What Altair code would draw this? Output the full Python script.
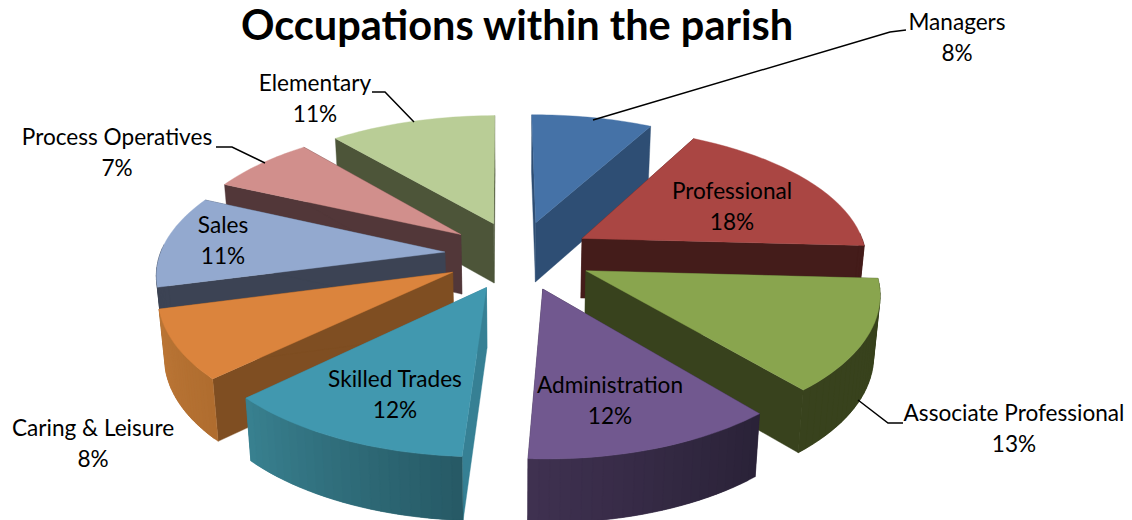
import math
import altair as alt

W, H = 1116, 512
categories = ["Managers", "Professional", "Associate Professional", "Administration",
              "Skilled Trades", "Caring & Leisure", "Sales", "Process Operatives", "Elementary"]
shares = [8, 18, 13, 12, 12, 8, 11, 7, 11]
top_colors = ["#4572a7", "#aa4643", "#89a54e", "#71588f", "#4198af", "#db843d", "#93a9cf", "#d18f8c", "#b9cd96"]
cut_colors = ["#2e4e74", "#441c1a", "#38421d", "#2b2239", "#368094", "#7f4e22", "#3c4354", "#523739", "#4d5539"]
wall_start = ["#2e4e74", "#441c1a", "#38421d", "#2a2238", "#275a66", "#b06d2f", "#3c4354", "#523739", "#4d5539"]
wall_end = ["#2e4e74", "#441c1a", "#38421d", "#3f3150", "#38808f", "#bb7636", "#3c4354", "#523739", "#4d5539"]
draw_order = ["Managers", "Elementary", "Process Operatives", "Professional", "Sales",
              "Associate Professional", "Caring & Leisure", "Administration", "Skilled Trades"]
label_x = [957, 732, 1014, 610, 395, 93, 223, 117, 315]
label_y = [23, 192, 414, 386, 380, 429, 226, 138, 84]
leaders = [[(906, 30), (890, 32), (593, 120)],
           [(903, 423), (888, 423), (858, 400)],
           [(372, 92), (385, 92), (414, 122)],
           [(216, 147), (232, 147), (265, 163)]]

# view of the tilted pie
CX, CY, RX, RY, P, PX, DEPTH, EXPLODE, OFFSET, TURN = 518.5, 255, 285, 133, 0.15, 0.14, 60, 0.26, 8, -0.008


def project(gx, gy, down=0.0):
    kx = 1 / (1 - PX * gy)
    k = 1 / (1 - P * gy)
    return (CX + RX * gx * kx * (1 - 0.018 * down) - OFFSET,
            CY + RY * gy * k + down * DEPTH * k ** 0.3 - OFFSET)


def mix(a, b, t):
    ca = [int(a[i:i + 2], 16) for i in (1, 3, 5)]
    cb = [int(b[i:i + 2], 16) for i in (1, 3, 5)]
    return "#%02x%02x%02x" % tuple(round(x + (y - x) * t) for x, y in zip(ca, cb))


def feature(points, fill):
    pts = [list(p) for p in points]
    pts.append(pts[0])
    return {"type": "Feature", "properties": {"fill": fill},
            "geometry": {"type": "Polygon", "coordinates": [pts]}}


slices = {}
cum = 0
for name, s, tc, cc, ws, we in zip(categories, shares, top_colors, cut_colors, wall_start, wall_end):
    a0 = cum / sum(shares) * 2 * math.pi + TURN
    cum += s
    a1 = cum / sum(shares) * 2 * math.pi + TURN
    slices[name] = (a0, a1, tc, cc, ws, we)

features = []
for name in draw_order:
    a0, a1, tc, cc, ws, we = slices[name]
    mid = (a0 + a1) / 2
    ax, ay = EXPLODE * math.sin(mid), -EXPLODE * math.cos(mid)
    n = 24
    angles = [a0 + (a1 - a0) * i / n for i in range(n + 1)]
    rim = [(ax + math.sin(a), ay - math.cos(a)) for a in angles]
    # the two cut faces lie behind the wall of their own slice
    for g in (rim[0], rim[-1]):
        features.append(feature([project(ax, ay), project(*g), project(*g, 1), project(ax, ay, 1)], cc))
    # outer wall, only where it faces the viewer, each strip lapping over the next
    for i in range(n):
        if math.cos(angles[i]) > 0.02 and math.cos(angles[i + 1]) > 0.02:
            continue
        span = rim[i:min(i + 3, n + 1)]
        features.append(feature([project(*g) for g in span] + [project(*g, 1) for g in reversed(span)],
                                mix(ws, we, i / (n - 1))))
    # top face
    features.append(feature([project(ax, ay)] + [project(*g) for g in rim], tc))

faces = alt.Chart(alt.Data(values=features)).mark_geoshape(strokeWidth=0.4, opacity=1).encode(
    fill=alt.Color("properties.fill:N", scale=None),
    stroke=alt.Color("properties.fill:N", scale=None),
).project(type="identity", scale=1, translate=[0, 0])

line_features = [{"type": "Feature", "properties": {},
                  "geometry": {"type": "LineString",
                               "coordinates": [[x - OFFSET, y - OFFSET] for x, y in line]}}
                 for line in leaders]
lines = alt.Chart(alt.Data(values=line_features)).mark_geoshape(
    filled=False, stroke="#000000", strokeWidth=1.5
).project(type="identity", scale=1, translate=[0, 0])

rows = []
for name, s, x, y in zip(categories, shares, label_x, label_y):
    rows.append({"t": name, "x": x - OFFSET, "y": y - OFFSET})
    rows.append({"t": f"{s}%", "x": x - OFFSET, "y": y + 30.5 - OFFSET})
rows_title = [{"t": "Occupations within the parish", "x": 517 - OFFSET, "y": 40 - OFFSET}]

xs = alt.X("x:Q", scale=alt.Scale(domain=[0, W], range=[0, W]), axis=None)
ys = alt.Y("y:Q", scale=alt.Scale(domain=[0, H], range=[0, H]), axis=None)
labels = alt.Chart(alt.Data(values=rows)).mark_text(
    font="Lato", fontSize=22.6, color="#000000", align="center", baseline="middle"
).encode(x=xs, y=ys, text="t:N")
title = alt.Chart(alt.Data(values=rows_title)).mark_text(
    font="Lato", fontSize=41.5, fontWeight="bold", color="#000000", align="center", baseline="alphabetic"
).encode(x=xs, y=ys, text="t:N")

chart = alt.layer(faces, lines, labels, title).properties(
    width=W, height=H, padding=0, autosize=alt.AutoSizeParams(type="none")
).configure_view(stroke=None).resolve_scale(x="shared", y="shared")

chart.save("out.html", embed_options={"renderer": "svg", "actions": False})
